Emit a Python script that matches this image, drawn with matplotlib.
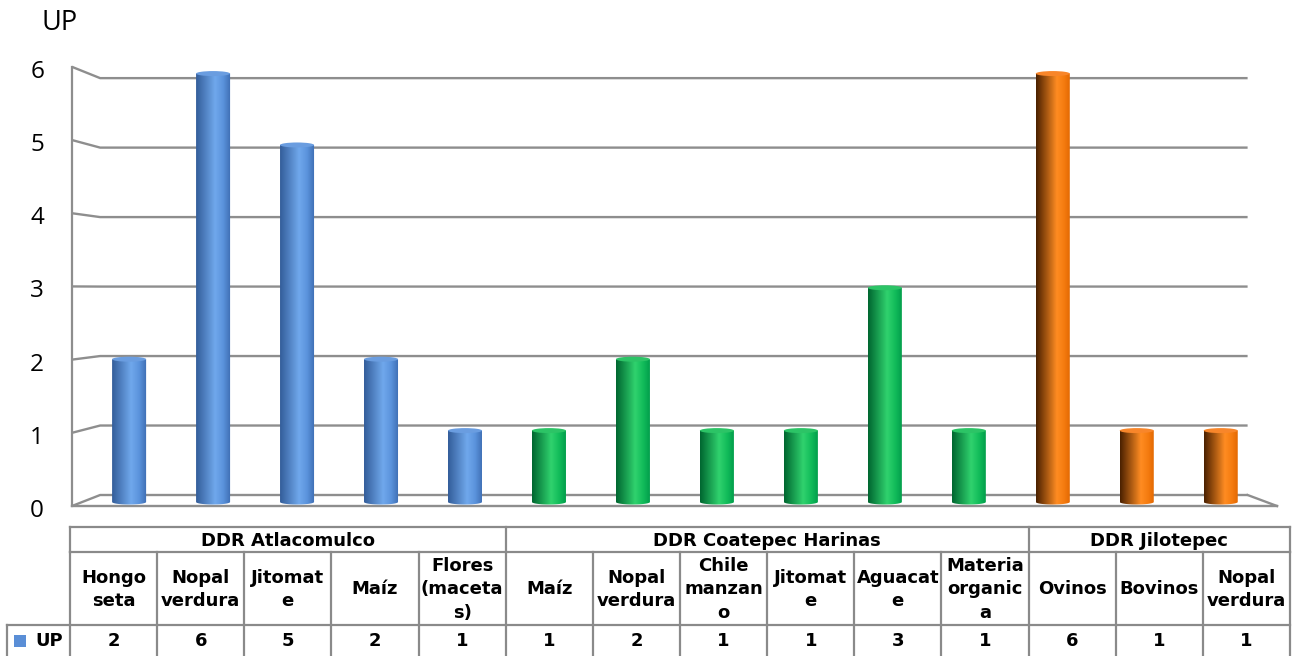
import numpy as np
import matplotlib
matplotlib.use("Agg")
from matplotlib import pyplot as plt
from matplotlib.colors import LinearSegmentedColormap
from matplotlib.patches import Ellipse, Polygon, Rectangle
from matplotlib.transforms import offset_copy

# data
groups = ["DDR Atlacomulco", "DDR Coatepec Harinas", "DDR Jilotepec"]
group_sizes = [5, 6, 3]
categories = ["Hongo\nseta", "Nopal\nverdura", "Jitomat\ne", "Maíz", "Flores\n(maceta\ns)",
              "Maíz", "Nopal\nverdura", "Chile\nmanzan\no", "Jitomat\ne", "Aguacat\ne",
              "Materia\norganic\na",
              "Ovinos", "Bovinos", "Nopal\nverdura"]
values = [2, 6, 5, 2, 1, 1, 2, 1, 1, 3, 1, 6, 1, 1]
yticks = [0, 1, 2, 3, 4, 5, 6]
series_name = "UP"

# cylinder shading per group
group_cmaps = [
    LinearSegmentedColormap.from_list("b", [(0, "#335d9a"), (0.55, "#70a8ec"), (0.78, "#5b93dc"), (1, "#3d6db2")]),
    LinearSegmentedColormap.from_list("g", [(0, "#006630"), (0.55, "#30d26e"), (0.78, "#12bc5a"), (1, "#009a4a")]),
    LinearSegmentedColormap.from_list("o", [(0, "#4a2000"), (0.6, "#ff8c22"), (0.8, "#f57c10"), (1, "#e06600")]),
]
cap_colors = ["#6a9de0", "#2cc466", "#f8862a"]
legend_color = "#5a8ed6"
grid_color = "#8e8e8e"
border_color = "#8a8a8a"

W, H = 1293, 656
fig = plt.figure(figsize=(W / 100, H / 100), dpi=100)

# chart area (x in category units, y in value units)
XL, XR = -0.68, 13.67      # front edges of the 3d frame
XBL, XBR = -0.345, 13.32   # back wall edges
ax = fig.add_axes([72 / W, (H - 508) / H, (1277 - 72) / W, (508 - 55) / H])
ax.axis("off")


def back_v(k):
    return 0.098 + 0.973 * k


def front_v(k):
    return -0.056 + 1.025 * k


for k in yticks:
    ax.plot([XL, XBL, XBR], [front_v(k), back_v(k), back_v(k)], color=grid_color,
            lw=1.7, zorder=1, clip_on=False, solid_capstyle="butt")
ax.plot([XL, XL], [front_v(0), front_v(yticks[-1])], color=grid_color, lw=1.6, zorder=1, clip_on=False)
ax.plot([XL, XR], [front_v(0), front_v(0)], color=grid_color, lw=1.7, zorder=1, clip_on=False)
ax.plot([XBR, XR], [back_v(0), front_v(0)], color=grid_color, lw=1.7, zorder=1, clip_on=False)

lab_tr = offset_copy(ax.transData, fig=fig, x=-28, y=-5, units="dots")
for k in yticks:
    ax.text(XL, front_v(k), str(k), transform=lab_tr, ha="right", va="center",
            fontsize=17.5, family="Open Sans")
fig.text(60 / W, 1 - 23 / H, series_name, ha="center", va="center", fontsize=19.5, family="Open Sans")

bar_w = 0.405
cap_h = 0.07
grad = np.linspace(0, 1, 128).reshape(1, -1)
group_idx = np.repeat(np.arange(len(groups)), group_sizes)
t = np.linspace(np.pi, 2 * np.pi, 40)
for i, v in enumerate(values):
    g = group_idx[i]
    x0, x1 = i - bar_w / 2, i + bar_w / 2
    pts = [(x0, v), (x0, 0)] + list(zip(i + bar_w / 2 * np.cos(t), cap_h / 2 * np.sin(t))) + [(x1, 0), (x1, v)]
    clip = Polygon(pts, closed=True, transform=ax.transData, facecolor="none", edgecolor="none")
    im = ax.imshow(grad, extent=[x0, x1, -cap_h, v], cmap=group_cmaps[g], aspect="auto",
                   interpolation="bilinear", zorder=3)
    im.set_clip_path(clip)
    ax.add_patch(Ellipse((i, v), bar_w, cap_h, facecolor=cap_colors[g], edgecolor="none", zorder=4))

ax.set_xlim(XL, XR)
ax.set_ylim(-0.084, 6.26)

# data table below the chart (pixel coordinates)
tax = fig.add_axes([0, 0, 1, 1])
tax.set_xlim(0, W)
tax.set_ylim(H, 0)
tax.axis("off")

left, right = 70, 1290
col_w = (right - left) / len(categories)
y_top, y_grp, y_cat, y_bot = 527, 552, 625, 662
lk = dict(color=border_color, lw=1.6, solid_capstyle="projecting")

tax.plot([left, right], [y_top, y_top], **lk)
tax.plot([left, right], [y_grp, y_grp], **lk)
tax.plot([7, right], [y_cat, y_cat], **lk)
tax.plot([7, 7], [y_cat, y_bot], **lk)
for c in range(len(categories) + 1):
    tax.plot([left + c * col_w] * 2, [y_grp, y_bot], **lk)
edges = np.concatenate([[0], np.cumsum(group_sizes)])
for e in edges:
    tax.plot([left + e * col_w] * 2, [y_top, y_grp], **lk)

tk = dict(ha="center", va="center", fontsize=13, fontweight="bold", family="DejaVu Sans")
for gi, name in enumerate(groups):
    cx = left + (edges[gi] + edges[gi + 1]) / 2 * col_w
    tax.text(cx, (y_top + y_grp) / 2 + 1, name, **tk)
for c, (cat, v) in enumerate(zip(categories, values)):
    cx = left + (c + 0.5) * col_w
    tax.text(cx, (y_grp + y_cat) / 2 + 1, cat, linespacing=1.4, **tk)
    tax.text(cx, 641, str(v), **tk)

tax.add_patch(Rectangle((14, 635), 12, 12, facecolor=legend_color, edgecolor="none"))
tax.text(35, 641, series_name, ha="left", va="center", fontsize=13, fontweight="bold", family="DejaVu Sans")

fig.savefig("out.png", dpi=100)
